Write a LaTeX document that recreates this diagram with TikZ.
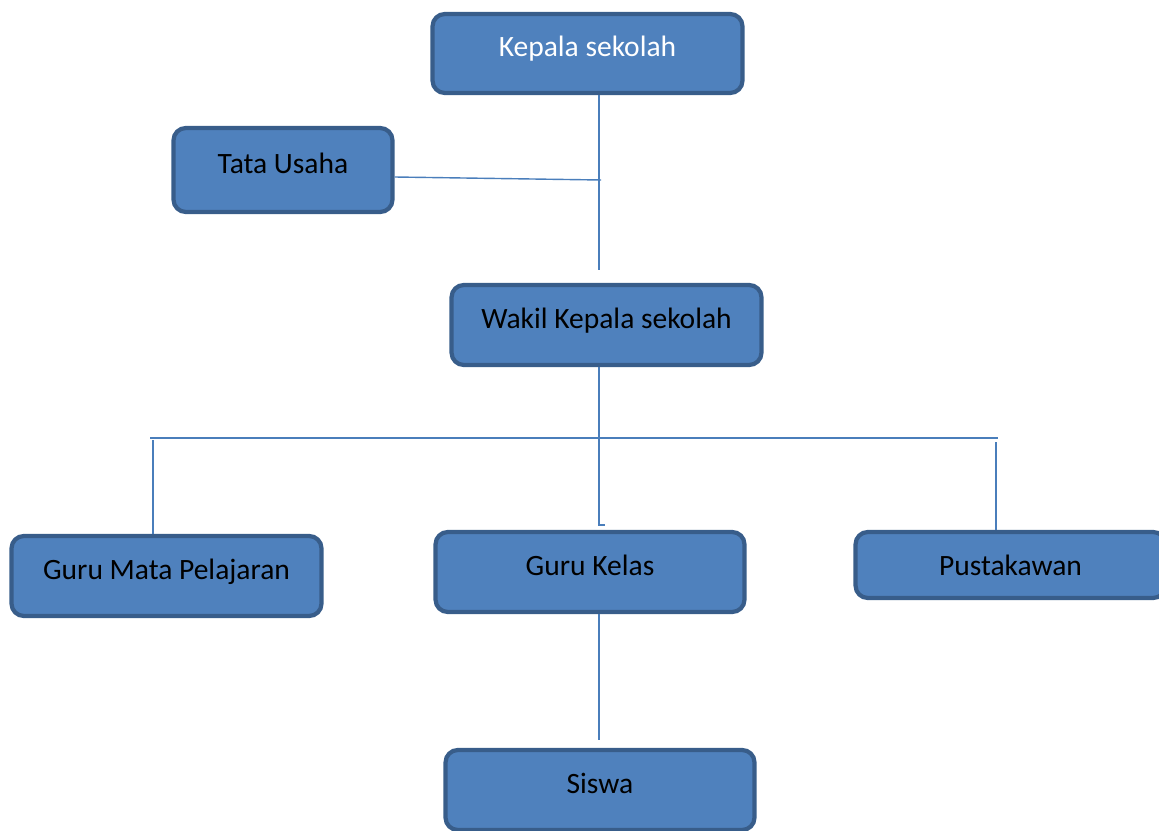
\documentclass[tikz,border=0pt]{standalone}
\usepackage{fontspec}
\setmainfont{Carlito}
\usepackage{tikz}
\definecolor{boxfill}{HTML}{4F81BD}
\definecolor{boxline}{HTML}{385D8A}
\definecolor{linkline}{HTML}{4A7EBB}
\def\orgnode{\node[rectangle,rounded corners=7pt,draw=boxline,line width=2.4pt,fill=boxfill,font=\fontsize{16.8}{20}\selectfont,text height=12.5pt,text depth=9pt,inner sep=0pt]}
\def\drawlink{\draw[color=linkline, line width=0.8pt]}

\begin{document}
\begin{tikzpicture}[x=0.02cm,y=-0.02cm]
\useasboundingbox (0,0) rectangle (1159,831);
\orgnode[minimum width=6.2cm,minimum height=1.58cm,text=white] (kepala) at (587.5,53.5) {Kepala sekolah};
\orgnode[minimum width=4.38cm,minimum height=1.68cm] (tata) at (283,170) {Tata Usaha};
\orgnode[minimum width=6.2cm,minimum height=1.6cm] (wakil) at (606.5,325) {Wakil Kepala sekolah};
\orgnode[minimum width=6.2cm,minimum height=1.6cm] (gmp) at (166.5,576) {Guru Mata Pelajaran};
\orgnode[minimum width=6.18cm,minimum height=1.6cm] (gkelas) at (590,572) {Guru Kelas};
\orgnode[minimum width=6.2cm,minimum height=1.32cm,text height=13pt,text depth=1pt] (pustaka) at (1010.5,565) {Pustakawan};
\orgnode[minimum width=6.18cm,minimum height=1.6cm] (siswa) at (600,790) {Siswa};
% trunk from the head down
\coordinate (top_c) at (599,270);
\coordinate (tata_l) at (397,177);
\coordinate (tata_c) at (601,180);
\drawlink (kepala.south -| top_c) to (top_c);
\drawlink (tata.east |- tata_l) to (tata_c);
% bar under the deputy
\coordinate (bar_l) at (150,438);
\coordinate (bar_r) at (998,438);
\coordinate (mid_c) at (599,525);
\coordinate (left_c) at (153,440);
\coordinate (right_c) at (996,442);
\coordinate (siswa_c) at (599,740);
\drawlink (wakil.south -| mid_c) to (mid_c) to ++(6,0);
\drawlink (bar_l) to (bar_r);
\drawlink (left_c) to (gmp.north -| left_c);
\drawlink (right_c) to (pustaka.north -| right_c);
\drawlink (gkelas.south -| siswa_c) to (siswa_c);
\end{tikzpicture}
\end{document}
